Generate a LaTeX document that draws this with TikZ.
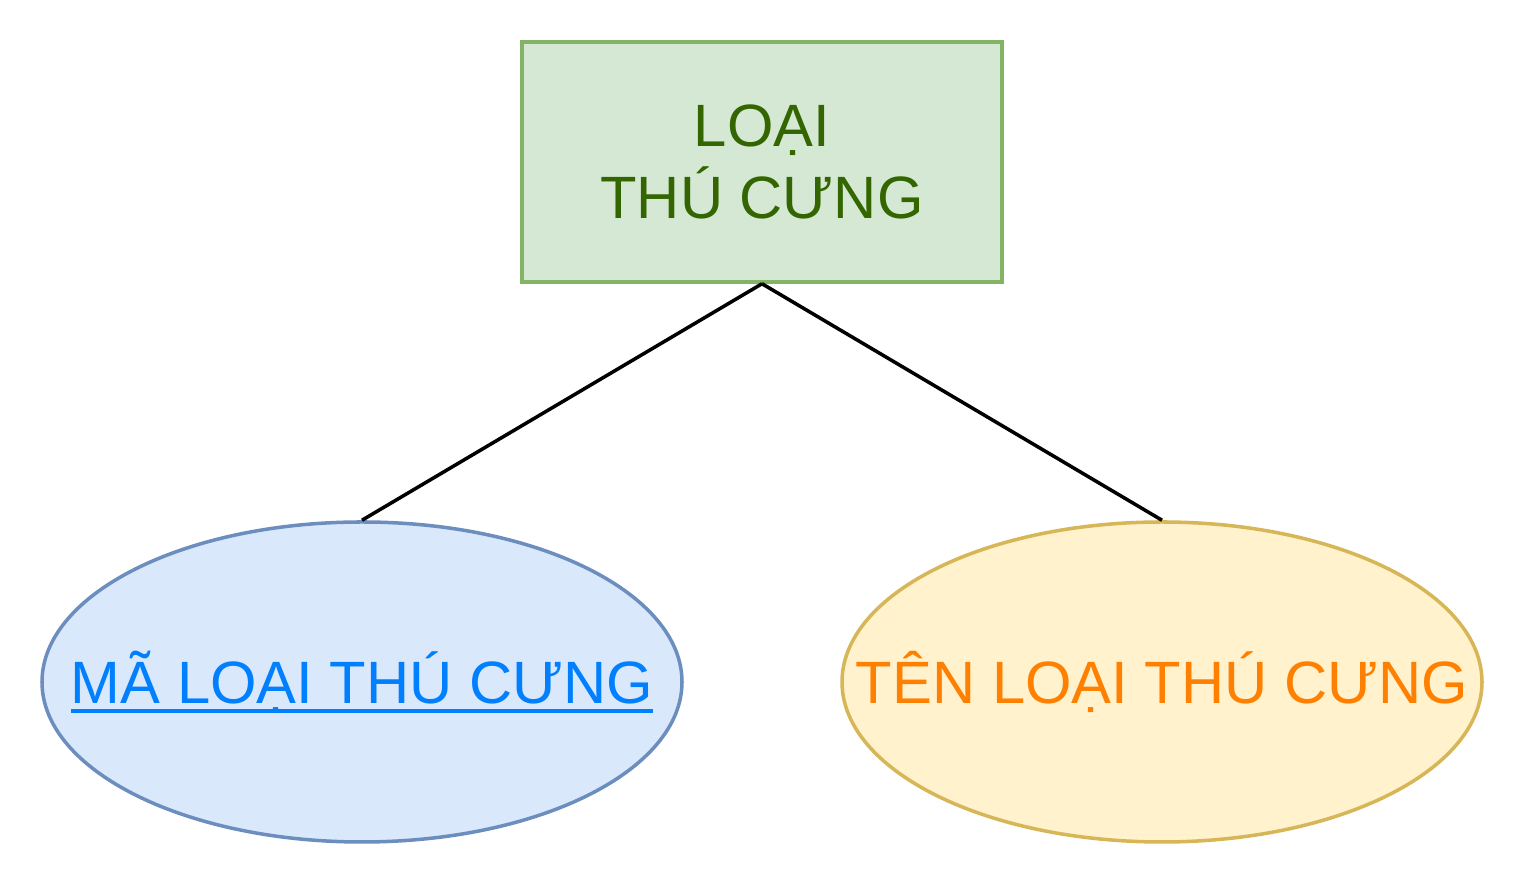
\documentclass[tikz,border=0pt]{standalone}
\usepackage{fontspec}
\setmainfont{Liberation Sans}
\usepackage{tikz}
\usetikzlibrary{shapes.geometric}
\definecolor{entfill}{HTML}{D5E8D4}
\definecolor{entdraw}{HTML}{82B366}
\definecolor{enttext}{HTML}{336600}
\definecolor{keyfill}{HTML}{DAE8FC}
\definecolor{keydraw}{HTML}{6C8EBF}
\definecolor{keytext}{HTML}{007FFF}
\definecolor{attfill}{HTML}{FFF2CC}
\definecolor{attdraw}{HTML}{D6B656}
\definecolor{atttext}{HTML}{FF8000}
\newlength{\keylen}
\newcommand{\keyline}[1]{\settowidth{\keylen}{#1}\rlap{\rule[-0.09cm]{\keylen}{0.035cm}}#1}

\begin{document}
\begin{tikzpicture}[
  entity/.style={rectangle,draw=entdraw,fill=entfill,line width=1pt,
                 minimum width=4.8cm,minimum height=2.4cm,inner sep=0pt,
                 align=center,text=enttext},
  keyattr/.style={ellipse,draw=keydraw,fill=keyfill,line width=1pt,
                  minimum width=6.4cm,minimum height=3.2cm,inner sep=0pt,text=keytext},
  attr/.style={ellipse,draw=attdraw,fill=attfill,line width=1pt,
               minimum width=6.4cm,minimum height=3.2cm,inner sep=0pt,text=atttext},
  link/.style={line width=1pt,black}]
  \useasboundingbox (0,0) rectangle (15.24,8.84);
  \fontsize{17pt}{20.3pt}\selectfont

  % ===== entity =====
  \node[entity] (loai) at (7.62,7.22) {LOẠI\\THÚ CƯNG};

  % ===== attributes (text in a zero-width box so the ellipse keeps its size) =====
  \node[keyattr] (ma) at (3.62,2.02) {\makebox[0pt]{\keyline{MÃ LOẠI THÚ CƯNG}}};
  \node[attr] (ten) at (11.62,2.02) {\makebox[0pt]{TÊN LOẠI THÚ CƯNG}};

  % ===== links =====
  \draw[link] (loai.south) -- (ma.north);
  \draw[link] (loai.south) -- (ten.north);

\end{tikzpicture}
\end{document}
